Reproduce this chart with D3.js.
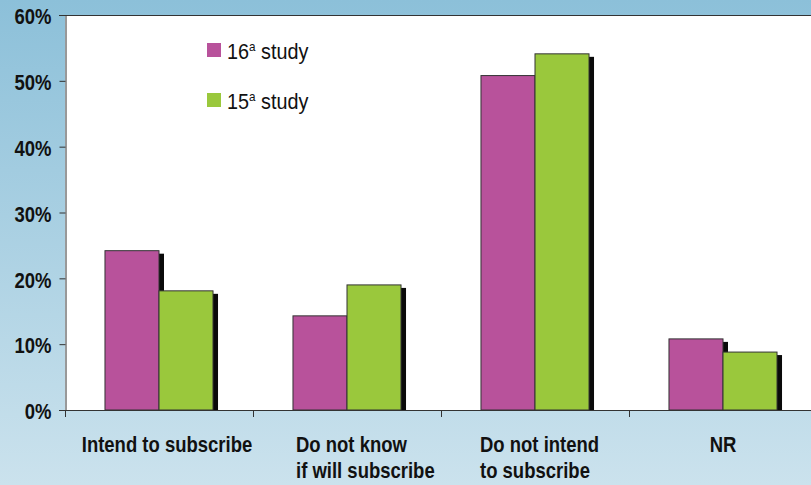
<!DOCTYPE html>
<html lang="en">
<head>
  <meta charset="utf-8">
  <title>Subscription intent</title>
  <script src="https://d3js.org/d3.v7.min.js"></script>
  <style type="text/css">
    body { margin: 0; }
    svg { display: block; }
    .lab { font-family: "Liberation Sans", Arial, sans-serif; }
  </style>
</head>
<body>
  <script type="text/javascript">

const categories = ["Intend to subscribe", "Do not know\nif will subscribe", "Do not intend\nto subscribe", "NR"];
const series = ["16", "15"];
const study16 = [24.2, 14.3, 50.8, 10.8];
const study15 = [18.1, 19.0, 54.1, 8.8];
const yTicks = [0, 10, 20, 30, 40, 50, 60];

const svgWidth = 811, svgHeight = 485;
const colors = { "16": "#b8529b", "15": "#9ac83c" };
const squeeze = 0.86; // condensed look

const svg = d3.select("body").append("svg")
    .attr("width", svgWidth)
    .attr("height", svgHeight);

const grad = svg.append("defs").append("linearGradient")
    .attr("id", "bg").attr("x1", 0).attr("y1", 0).attr("x2", 0).attr("y2", 1);
grad.append("stop").attr("offset", "0%").attr("stop-color", "#8cc0d9");
grad.append("stop").attr("offset", "100%").attr("stop-color", "#cbe2ed");

svg.append("rect")
    .attr("width", svgWidth).attr("height", svgHeight)
    .attr("fill", "url(#bg)");

const xScale = d3.scaleBand()
    .domain(categories)
    .range([65, 65 + 188 * 4]);

const inner = d3.scaleBand()
    .domain(series)
    .range([0, xScale.bandwidth()])
    .paddingOuter(0.74)
    .paddingInner(0);

const yScale = d3.scaleLinear()
    .domain([0, 60])
    .range([410, 15]);

// plot area
svg.append("rect")
    .attr("x", 65).attr("y", 15)
    .attr("width", svgWidth - 65).attr("height", 395)
    .attr("fill", "white");

svg.append("line")
    .attr("x1", 59).attr("x2", svgWidth)
    .attr("y1", 15.5).attr("y2", 15.5)
    .attr("stroke", "#333");

const rows = categories.map((c, i) => ({ cat: c, vals: [study16[i], study15[i]] }));

const groups = svg.selectAll("g.cat")
    .data(rows)
    .enter().append("g")
    .attr("class", "cat")
    .attr("transform", d => `translate(${xScale(d.cat)},0)`);

const bars = groups.selectAll("g.bar")
    .data(d => series.map((s, j) => ({ s: s, v: d.vals[j] })))
    .enter().append("g").attr("class", "bar");

bars.append("rect")
    .attr("x", d => inner(d.s) + 5)
    .attr("y", d => yScale(d.v) + 3)
    .attr("width", inner.bandwidth())
    .attr("height", d => yScale(0) - yScale(d.v) - 3)
    .attr("fill", "#0a0a0a");

bars.append("rect")
    .attr("x", d => inner(d.s))
    .attr("y", d => yScale(d.v))
    .attr("width", inner.bandwidth())
    .attr("height", d => yScale(0) - yScale(d.v))
    .attr("fill", d => colors[d.s])
    .attr("stroke", "#333")
    .attr("stroke-width", 1);

// y axis
const yAxis = d3.axisLeft(yScale)
    .tickValues(yTicks)
    .tickSize(6)
    .tickFormat(d => d + "%");
const yg = svg.append("g")
    .attr("transform", "translate(65.5,0)")
    .call(yAxis);
yg.select(".domain").attr("stroke", "#333");
yg.selectAll(".tick line").attr("stroke", "#333");
yg.selectAll(".tick text")
    .attr("class", "lab")
    .attr("x", 0)
    .attr("dy", "0.36em")
    .attr("transform", `translate(-14,1) scale(${squeeze},1)`)
    .style("font-size", "21.5px")
    .style("font-weight", "bold")
    .attr("fill", "#111");

// baseline and category ticks
svg.append("line")
    .attr("x1", 59).attr("x2", svgWidth)
    .attr("y1", 410.5).attr("y2", 410.5)
    .attr("stroke", "#333");
svg.selectAll("line.ct")
    .data(categories)
    .enter().append("line")
    .attr("class", "ct")
    .attr("x1", d => xScale(d) + 0.5).attr("x2", d => xScale(d) + 0.5)
    .attr("y1", 410).attr("y2", 417)
    .attr("stroke", "#333");

// category labels
const labelShift = [8, -51, -55, 0];
const labelAnchor = ["middle", "start", "start", "middle"];
categories.forEach((c, i) => {
  const lx = xScale(c) + xScale.bandwidth() / 2 + labelShift[i];
  const t = svg.append("text")
      .attr("class", "lab")
      .attr("transform", `translate(${lx},452) scale(${squeeze},1)`)
      .attr("text-anchor", labelAnchor[i])
      .style("font-size", "21.5px")
      .style("font-weight", "bold")
      .attr("fill", "#111");
  c.split("\n").forEach((line, k) => {
    t.append("tspan")
        .attr("x", 0)
        .attr("dy", k === 0 ? 0 : 26)
        .text(line);
  });
});

// legend
series.forEach((s, i) => {
  const g = svg.append("g")
      .attr("transform", `translate(207, ${43 + i * 50})`);
  g.append("rect")
      .attr("width", 14).attr("height", 14)
      .attr("fill", colors[s]);
  const t = g.append("text")
      .attr("class", "lab")
      .attr("transform", `translate(20,15.5) scale(0.9,1)`)
      .style("font-size", "22px")
      .attr("fill", "#111");
  t.append("tspan").text(s);
  t.append("tspan").attr("dy", -8).style("font-size", "13px").text("a");
  t.append("tspan").attr("dy", 8).text(" study");
});

  </script>
</body>
</html>
